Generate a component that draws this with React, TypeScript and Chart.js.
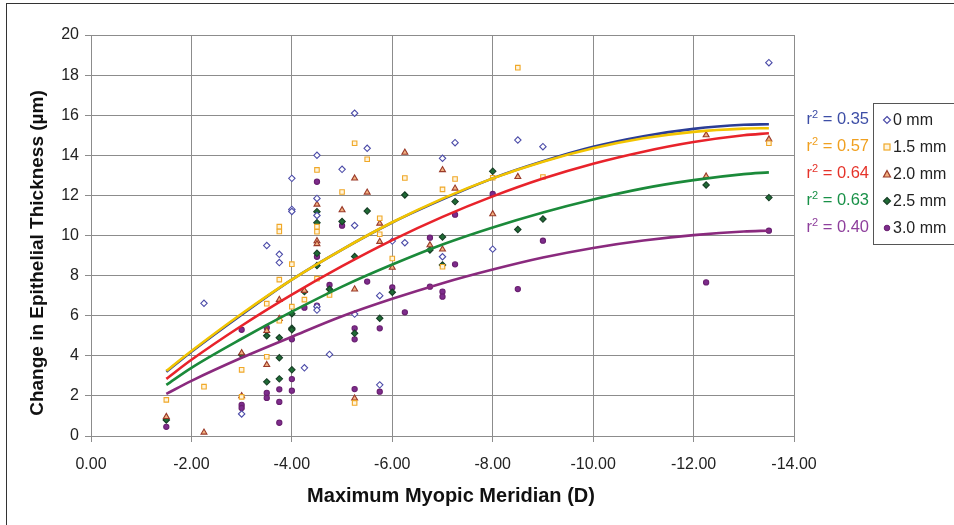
import React, { useEffect, useRef } from "react";
import { Chart, registerables } from "chart.js";

Chart.register(...registerables);

type P = [number, number];

const xTickValues = [0, -2, -4, -6, -8, -10, -12, -14];
const yTickValues = [0, 2, 4, 6, 8, 10, 12, 14, 16, 18, 20];

const xAxisTitle = "Maximum Myopic Meridian (D)";
const yAxisTitle = "Change in Epithelial Thickness (µm)";
const seriesNames = ["0 mm", "1.5 mm", "2.0 mm", "2.5 mm", "3.0 mm"];
const rSquared = ["0.35", "0.57", "0.64", "0.63", "0.40"];

const pts0mm: P[] = [
  [-2.25, 6.62], [-3, 1.1], [-3.5, 9.5], [-3.75, 9.06], [-3.75, 8.65], [-4, 12.85], [-4, 11.3], [-4, 11.2],
  [-4.25, 3.4], [-4.5, 14.0], [-4.5, 11.85], [-4.5, 11.0], [-4.5, 6.45], [-4.5, 6.28], [-4.75, 4.07],
  [-5, 13.3], [-5.25, 16.1], [-5.25, 10.5], [-5.25, 6.08], [-5.5, 14.35], [-5.75, 7.0], [-5.75, 2.55],
  [-6, 9.72], [-6.25, 9.64], [-7, 13.85], [-7, 8.94], [-7.25, 14.63], [-8, 9.32], [-8.5, 14.76],
  [-9, 14.43], [-13.5, 18.62],
];
const pts15mm: P[] = [
  [-1.5, 1.8], [-2.25, 2.46], [-3, 3.3], [-3, 1.95], [-3.5, 6.6], [-3.5, 3.95], [-3.75, 10.44], [-3.75, 10.2],
  [-3.75, 7.8], [-3.75, 5.75], [-4, 8.57], [-4, 6.45], [-4.25, 6.8], [-4.5, 13.27], [-4.5, 10.44],
  [-4.5, 10.19], [-4.5, 7.85], [-4.75, 7.03], [-5, 12.17], [-5.25, 14.6], [-5.25, 1.65], [-5.5, 13.8],
  [-5.75, 10.86], [-5.75, 10.06], [-6, 8.85], [-6.25, 12.87], [-7, 12.3], [-7, 8.44], [-7.25, 12.82],
  [-8, 12.88], [-8.5, 18.37], [-9, 12.92], [-13.5, 14.6],
];
const pts20mm: P[] = [
  [-1.5, 0.96], [-2.25, 0.18], [-3, 4.14], [-3, 2.0], [-3.5, 5.25], [-3.5, 3.55], [-3.75, 6.8], [-3.75, 5.85],
  [-4.25, 7.25], [-4.5, 11.55], [-4.5, 9.73], [-4.5, 9.58], [-5, 11.27], [-5.25, 12.85], [-5.25, 7.32],
  [-5.25, 1.88], [-5.5, 12.15], [-5.75, 10.6], [-5.75, 9.69], [-6, 8.4], [-6.25, 14.14], [-6.75, 9.52],
  [-7, 13.27], [-7, 9.31], [-7.25, 12.35], [-8, 11.07], [-8.5, 12.93], [-12.25, 15.01], [-12.25, 12.95],
  [-13.5, 14.8],
];
const pts25mm: P[] = [
  [-1.5, 0.8], [-3, 4.05], [-3.5, 5.0], [-3.5, 2.7], [-3.75, 4.9], [-3.75, 3.9], [-3.75, 2.85], [-4, 6.1],
  [-4, 5.38], [-4, 5.3], [-4, 3.3], [-4.25, 7.2], [-4.5, 11.19], [-4.5, 10.64], [-4.5, 9.11], [-4.5, 8.5],
  [-4.75, 7.32], [-5, 10.7], [-5.25, 8.95], [-5.25, 5.12], [-5.5, 11.22], [-5.75, 5.87], [-6, 7.17],
  [-6.25, 12.02], [-6.75, 9.28], [-7, 9.93], [-7, 8.53], [-7.25, 11.69], [-8, 13.2], [-8.5, 10.3],
  [-9, 10.82], [-12.25, 12.52], [-13.5, 11.89],
];
const pts30mm: P[] = [
  [-1.5, 0.46], [-3, 5.3], [-3, 1.55], [-3, 1.4], [-3.5, 5.4], [-3.5, 2.15], [-3.5, 1.9], [-3.75, 2.33],
  [-3.75, 1.7], [-3.75, 0.66], [-4, 4.82], [-4, 2.84], [-4, 2.26], [-4.25, 6.4], [-4.5, 12.68], [-4.5, 8.94],
  [-4.5, 6.5], [-4.75, 7.53], [-5, 10.49], [-5.25, 5.37], [-5.25, 4.82], [-5.25, 2.34], [-5.5, 7.7],
  [-5.75, 5.37], [-5.75, 2.21], [-6, 7.41], [-6.25, 6.17], [-6.75, 9.89], [-6.75, 7.45], [-7, 7.2],
  [-7, 6.95], [-7.25, 11.04], [-7.25, 8.56], [-8, 12.07], [-8.5, 7.33], [-9, 9.74], [-12.25, 7.66],
  [-13.5, 10.24],
];

const trendX = [-1.5, -2, -3, -4, -5, -6, -7, -8, -9, -10, -11, -12, -13, -13.5];
const trend0mm = [3.2, 4.2, 6.05, 7.8, 9.3, 10.65, 11.8, 12.85, 13.7, 14.42, 14.95, 15.32, 15.52, 15.55];
const trend15mm = [3.25, 4.24, 6.1, 7.8, 9.3, 10.66, 11.84, 12.85, 13.68, 14.35, 14.85, 15.17, 15.33, 15.35];
const trend20mm = [2.85, 3.8, 5.5, 7.05, 8.47, 9.77, 10.93, 11.95, 12.84, 13.58, 14.18, 14.66, 15.0, 15.1];
const trend25mm = [2.55, 3.4, 4.85, 6.2, 7.45, 8.55, 9.55, 10.4, 11.15, 11.8, 12.35, 12.76, 13.06, 13.15];
const trend30mm = [2.1, 2.75, 3.9, 4.95, 5.97, 6.84, 7.62, 8.3, 8.9, 9.38, 9.75, 10.02, 10.2, 10.24];

const FONT = '"Liberation Sans", Arial, sans-serif';
const lineColors = ["#2b3d96", "#f2c400", "#e8232b", "#1b8a3a", "#8a2a7e"];
const labelColors = ["#3d4ea6", "#f0a020", "#e5332a", "#199148", "#8e3f9c"];
const markerStyles = [
  { style: "rectRot", bg: "#ffffff", border: "#4b4ba8", r: 3.2 },
  { style: "rect", bg: "#fff4dc", border: "#f0a828", r: 3.2 },
  { style: "triangle", bg: "#f2b080", border: "#9a3a2a", r: 3.4 },
  { style: "rectRot", bg: "#1f6b35", border: "#173e26", r: 3.2 },
  { style: "circle", bg: "#7d2c8c", border: "#6a2070", r: 2.6 },
];

const toXY = (pts: P[]) => pts.map(([x, y]) => ({ x, y }));
const trendXY = (ys: number[]) => trendX.map((x, i) => ({ x, y: ys[i] }));

function Marker({ i }: { i: number }) {
  const m = markerStyles[i];
  let shape: React.ReactNode = null;
  if (m.style === "rectRot") shape = <polygon points="5,1.5 8.5,5 5,8.5 1.5,5" fill={m.bg} stroke={m.border} strokeWidth="1.2" />;
  else if (m.style === "rect") shape = <rect x="2" y="2" width="6" height="6" fill={m.bg} stroke={m.border} strokeWidth="1.2" />;
  else if (m.style === "triangle") shape = <polygon points="5,1.5 8.5,8 1.5,8" fill={m.bg} stroke={m.border} strokeWidth="1.2" />;
  else shape = <circle cx="5" cy="5" r="2.8" fill={m.bg} stroke={m.border} strokeWidth="1" />;
  return (
    <svg width="10" height="10" style={{ position: "absolute", left: 8, top: 5 }}>
      {shape}
    </svg>
  );
}

export default function App() {
  const canvasRef = useRef<HTMLCanvasElement | null>(null);

  useEffect(() => {
    if (!canvasRef.current) return;
    const pointSets = [pts0mm, pts15mm, pts20mm, pts25mm, pts30mm];
    const trendSets = [trend0mm, trend15mm, trend20mm, trend25mm, trend30mm];
    const lineOrder = [1, 0, 2, 3, 4];
    const datasets: any[] = [];
    trendSets.forEach((t, i) => {
      datasets.push({
        label: seriesNames[i] + " trend",
        data: trendXY(t),
        showLine: true,
        borderColor: lineColors[i],
        borderWidth: 2.6,
        pointRadius: 0,
        tension: 0.4,
        cubicInterpolationMode: "monotone",
        order: lineOrder[i],
      });
    });
    pointSets.forEach((p, i) => {
      const m = markerStyles[i];
      datasets.push({
        label: seriesNames[i],
        data: toXY(p),
        showLine: false,
        pointStyle: m.style,
        pointRadius: m.r,
        pointBackgroundColor: m.bg,
        pointBorderColor: m.border,
        pointBorderWidth: 1.1,
        order: 10 + i,
      });
    });

    const chart = new Chart(canvasRef.current, {
      type: "scatter",
      data: { datasets },
      options: {
        animation: false,
        responsive: false,
        devicePixelRatio: 1,
        layout: { padding: { left: 0, right: 160, top: 35, bottom: 0 } },
        plugins: { legend: { display: false }, tooltip: { enabled: false } },
        scales: {
          x: {
            type: "linear",
            reverse: true,
            min: -14,
            max: 0,
            afterFit: (s: any) => { s.height = 89; },
            afterBuildTicks: (s: any) => { s.ticks = xTickValues.map((v) => ({ value: v })); },
            grid: { color: "#8c8c8c", lineWidth: 1, tickLength: 6, tickColor: "#8c8c8c" },
            border: { color: "#8c8c8c", width: 1 },
            ticks: {
              maxRotation: 0,
              autoSkip: false,
              padding: 13,
              color: "#222",
              font: { family: FONT, size: 16 },
              callback: (v: any) => Number(v).toFixed(2),
            },
            title: { display: false },
          },
          y: {
            type: "linear",
            min: 0,
            max: 20,
            afterFit: (s: any) => { s.width = 91; },
            afterBuildTicks: (s: any) => { s.ticks = yTickValues.map((v) => ({ value: v })); },
            grid: { color: "#8c8c8c", lineWidth: 1, tickLength: 6, tickColor: "#8c8c8c" },
            border: { color: "#8c8c8c", width: 1 },
            ticks: {
              padding: 6,
              color: "#222",
              font: { family: FONT, size: 16 },
              callback: (v: any) => String(v),
            },
            title: { display: false },
          },
        },
      } as any,
    });
    return () => chart.destroy();
  }, []);

  const rowTops = [108, 135, 162, 189, 216];

  return (
    <div
      style={{
        position: "fixed",
        left: 0,
        top: 0,
        width: 954,
        height: 525,
        overflow: "hidden",
        background: "#fff",
        fontFamily: FONT,
      }}
    >
      <div
        style={{
          position: "absolute",
          left: 6,
          top: 3,
          width: 1000,
          height: 600,
          borderLeft: "1.5px solid #333",
          borderTop: "1.5px solid #333",
        }}
      />
      <canvas ref={canvasRef} width={954} height={525} style={{ position: "absolute", left: 0, top: 0 }} />
      <div
        style={{
          position: "absolute",
          left: 451 - 250,
          top: 495 - 12,
          width: 500,
          height: 24,
          lineHeight: "24px",
          textAlign: "center",
          fontSize: 20,
          fontWeight: "bold",
          color: "#111",
          whiteSpace: "nowrap",
        }}
      >
        {xAxisTitle}
      </div>
      <div
        style={{
          position: "absolute",
          left: 37 - 250,
          top: 253 - 12,
          width: 500,
          height: 24,
          lineHeight: "24px",
          textAlign: "center",
          fontSize: 19,
          fontWeight: "bold",
          color: "#111",
          whiteSpace: "nowrap",
          transform: "rotate(-90deg)",
        }}
      >
        {yAxisTitle}
      </div>
      {rSquared.map((r, i) => (
        <div
          key={"r" + i}
          style={{
            position: "absolute",
            right: 954 - 869,
            top: rowTops[i],
            fontSize: 16.5,
            lineHeight: "20px",
            color: labelColors[i],
            whiteSpace: "nowrap",
          }}
        >
          r<sup style={{ fontSize: 11, lineHeight: 0, verticalAlign: "6px" }}>2</sup> = {r}
        </div>
      ))}
      <div
        style={{
          position: "absolute",
          left: 873,
          top: 103,
          width: 120,
          height: 140,
          border: "1.5px solid #555",
          background: "#fff",
        }}
      >
        {seriesNames.map((n, i) => (
          <div key={n} style={{ position: "absolute", left: 0, top: rowTops[i] - 103 + 1, height: 20, width: 120 }}>
            <Marker i={i} />
            <span
              style={{
                position: "absolute",
                left: 19,
                top: 0,
                fontSize: 16,
                lineHeight: "19px",
                color: "#222",
                whiteSpace: "nowrap",
              }}
            >
              {n}
            </span>
          </div>
        ))}
      </div>
    </div>
  );
}
